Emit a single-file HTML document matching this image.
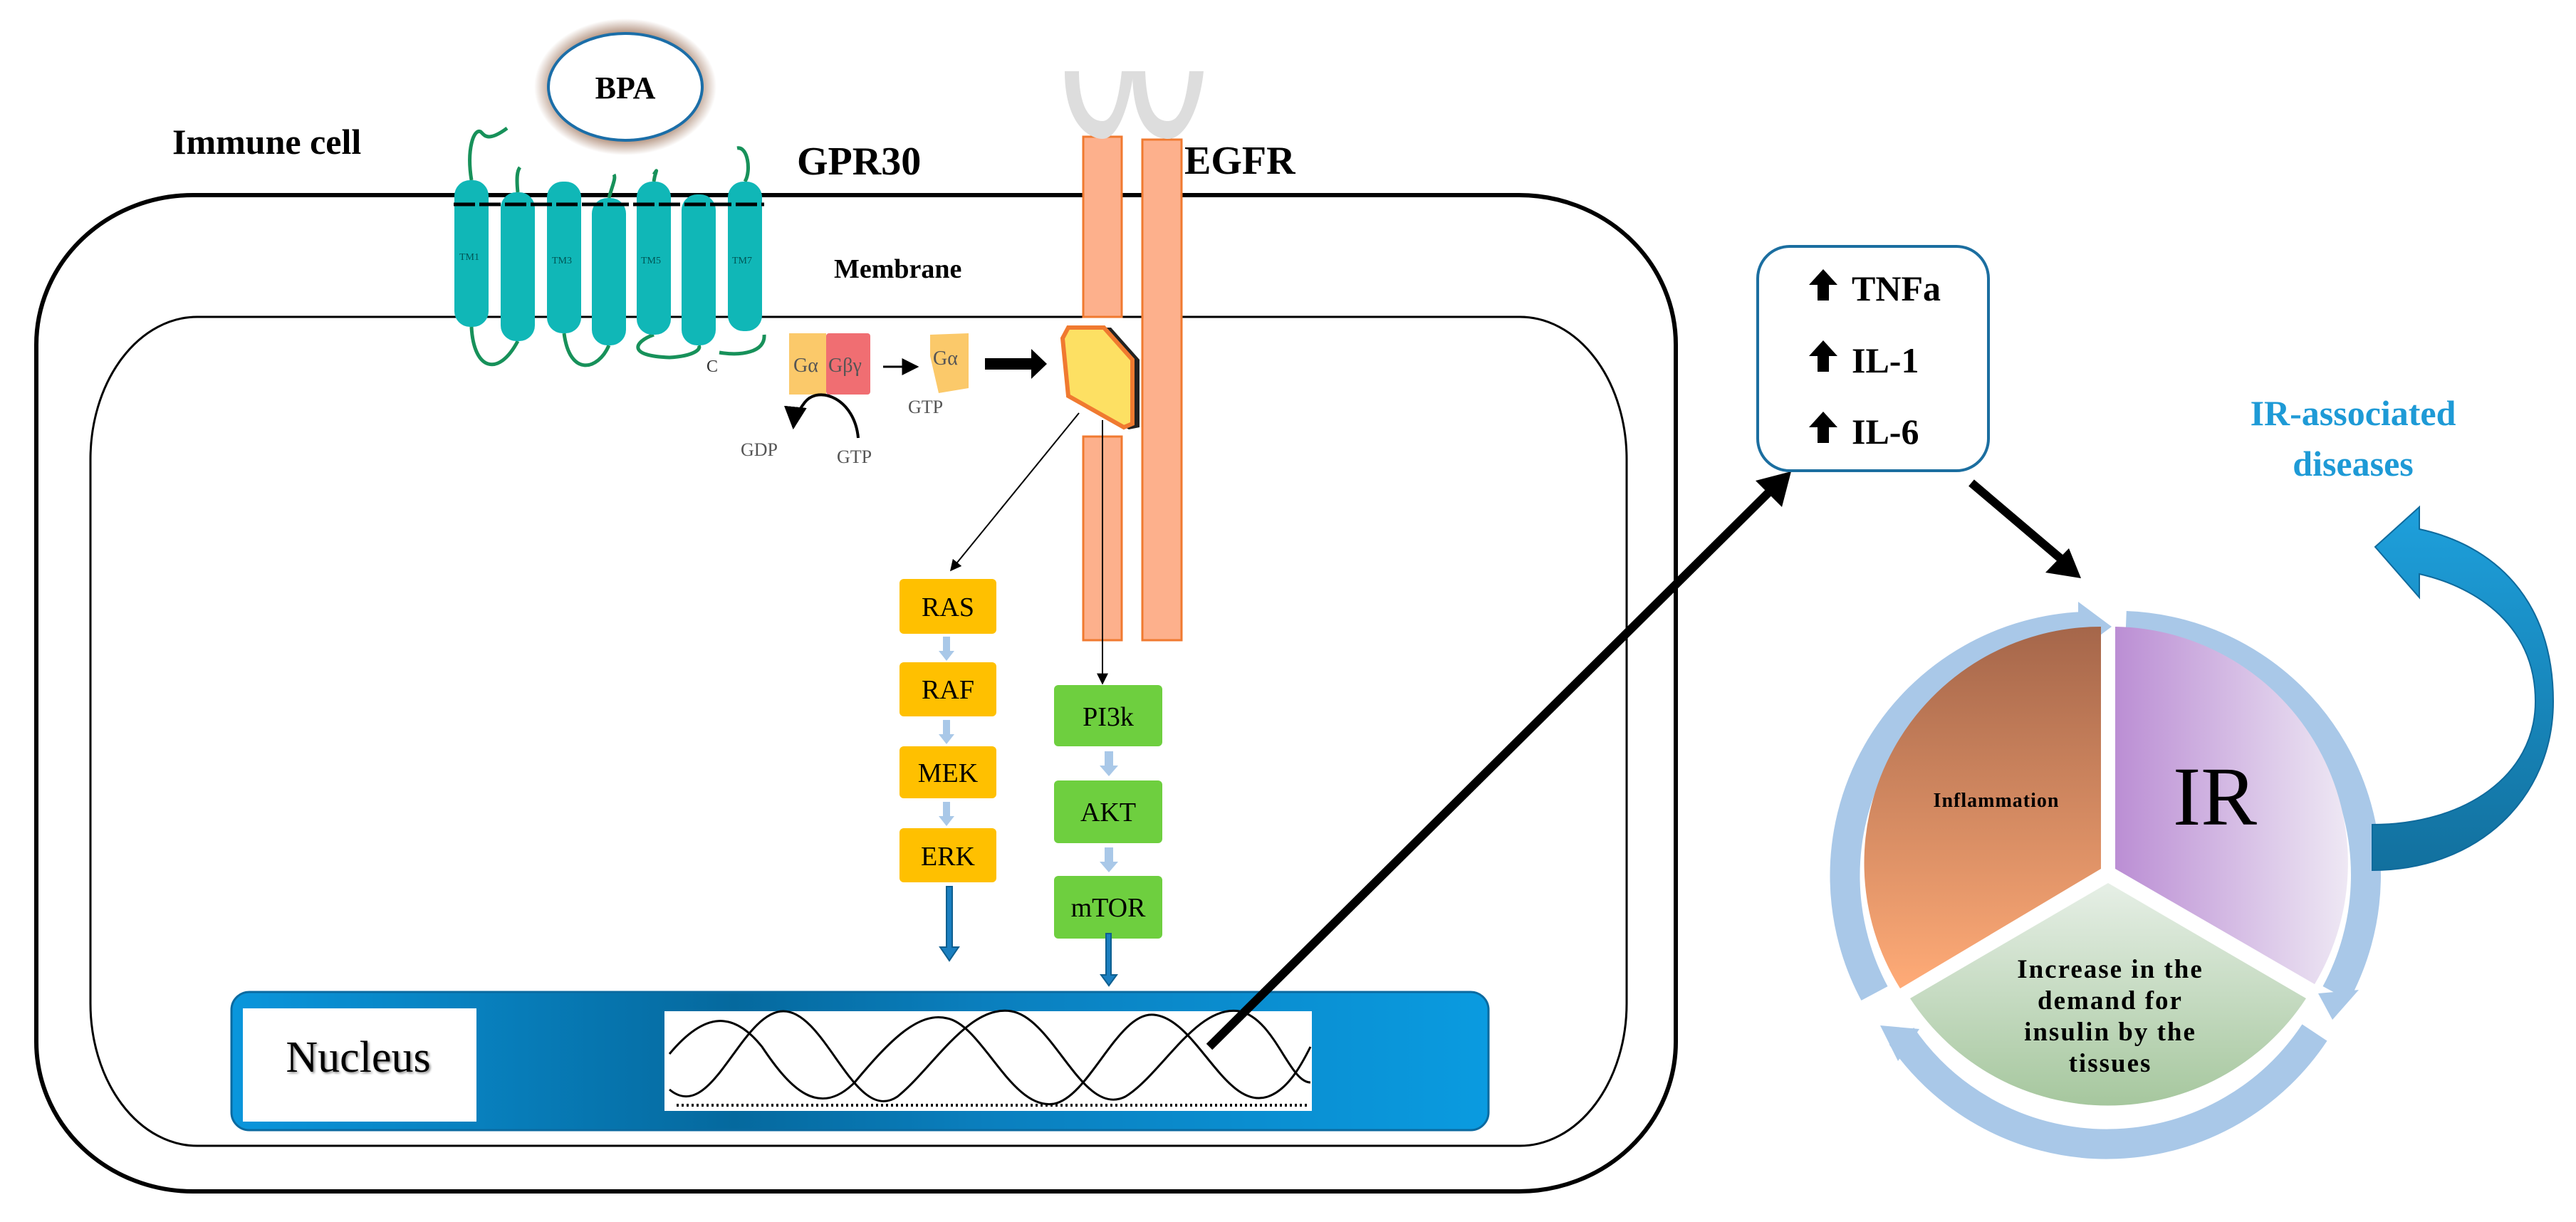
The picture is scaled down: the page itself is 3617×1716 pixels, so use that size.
<!DOCTYPE html>
<html><head><meta charset="utf-8"><style>
html,body{margin:0;padding:0;background:#fff;}
svg{display:block;}
text{font-family:"Liberation Serif",serif;}
</style></head><body>
<svg width="3617" height="1716" viewBox="0 0 3617 1716" xmlns="http://www.w3.org/2000/svg">
<defs>
<radialGradient id="halo" cx="50%" cy="50%" r="50%">
<stop offset="0.6" stop-color="#fff"/><stop offset="0.8" stop-color="#b89a88"/><stop offset="1" stop-color="#fff"/>
</radialGradient>
<linearGradient id="nuc" x1="0" x2="1" y1="0" y2="0">
<stop offset="0" stop-color="#0a96dc"/><stop offset="0.4" stop-color="#05699e"/><stop offset="0.6" stop-color="#0a7fbe"/><stop offset="1" stop-color="#0a9be0"/>
</linearGradient>
<linearGradient id="infl" x1="0" x2="0" y1="0" y2="1">
<stop offset="0" stop-color="#a5664a"/><stop offset="1" stop-color="#ffab77"/>
</linearGradient>
<linearGradient id="ir" x1="0" x2="1" y1="0" y2="0">
<stop offset="0" stop-color="#bb8ed4"/><stop offset="1" stop-color="#eee8f4"/>
</linearGradient>
<linearGradient id="grn" x1="0" x2="0" y1="0" y2="1">
<stop offset="0" stop-color="#e6efe6"/><stop offset="1" stop-color="#a6c79e"/>
</linearGradient>
<linearGradient id="barr" x1="0" x2="0" y1="0" y2="1">
<stop offset="0" stop-color="#1ea0dc"/><stop offset="1" stop-color="#12709e"/>
</linearGradient>
<marker id="ah" viewBox="0 0 10 10" refX="9" refY="5" markerWidth="8" markerHeight="8" orient="auto-start-reverse"><path d="M0,0 L10,5 L0,10 z" fill="#000"/></marker>
</defs>

<path d="M271,274 L2133,274 A220,210 0 0 1 2353,484 L2353,1463 A220,210 0 0 1 2133,1673 L271,1673 A220,210 0 0 1 51,1463 L51,484 A220,210 0 0 1 271,274 Z" fill="none" stroke="#000" stroke-width="6"/>
<path d="M277,445 L2134,445 A150,200 0 0 1 2284,645 L2284,1409 A150,200 0 0 1 2134,1609 L277,1609 A150,200 0 0 1 127,1409 L127,645 A150,200 0 0 1 277,445 Z" fill="none" stroke="#000" stroke-width="3"/>

<ellipse cx="878" cy="122" rx="128" ry="96" fill="url(#halo)"/>
<ellipse cx="878" cy="122" rx="108" ry="75" fill="#fff" stroke="#1b6ea8" stroke-width="4"/>
<text x="878" y="138" font-size="44" font-weight="bold" text-anchor="middle">BPA</text>

<text x="242" y="216" font-size="50" font-weight="bold">Immune cell</text>
<text x="1119" y="245" font-size="56" font-weight="bold">GPR30</text>
<text x="1663" y="244" font-size="56" font-weight="bold">EGFR</text>
<text x="1171" y="390" font-size="38" font-weight="bold">Membrane</text>

<g fill="none" stroke="#17915a" stroke-width="5">
<path d="M662,253 C655,210 665,180 675,185 C680,190 685,200 712,180"/>
<path d="M727,270 C725,250 726,240 730,235"/>
<path d="M855,278 C860,260 865,250 862,245"/>
<path d="M918,255 C920,240 925,235 918,245"/>
<path d="M1046,255 C1055,240 1050,205 1035,208"/>
<path d="M662,459 C665,520 700,530 727,479"/>
<path d="M792,468 C800,530 840,520 855,485"/>
<path d="M918,470 C890,480 880,500 940,502 C975,500 985,490 981,485"/>
<path d="M1010,495 C1040,500 1075,495 1073,470"/>
</g>
<g fill="#10b7b7">
<rect x="638" y="253" width="48" height="206" rx="22"/>
<rect x="703" y="270" width="48" height="209" rx="22"/>
<rect x="768" y="255" width="48" height="213" rx="22"/>
<rect x="831" y="278" width="48" height="207" rx="22"/>
<rect x="894" y="255" width="48" height="215" rx="22"/>
<rect x="957" y="273" width="48" height="212" rx="22"/>
<rect x="1022" y="255" width="48" height="210" rx="22"/>
</g>
<line x1="637" y1="287" x2="1073" y2="287" stroke="#000" stroke-width="5" stroke-dasharray="30,6"/>
<g font-size="14" fill="#055" font-family="Liberation Sans,sans-serif">
<text x="645" y="365">TM1</text><text x="775" y="370">TM3</text><text x="900" y="370">TM5</text><text x="1028" y="370">TM7</text>
</g>
<text x="992" y="522" font-size="24" fill="#333" font-family="Liberation Sans,sans-serif">C</text>

<rect x="1108" y="468" width="52" height="86" fill="#fbc96a"/>
<rect x="1160" y="468" width="62" height="86" fill="#f06e72" rx="4"/>
<text x="1114" y="522" font-size="28" fill="#555" font-family="Liberation Sans,sans-serif">Gα</text>
<text x="1163" y="522" font-size="28" fill="#555" font-family="Liberation Sans,sans-serif">Gβγ</text>
<line x1="1240" y1="515" x2="1288" y2="515" stroke="#000" stroke-width="3" marker-end="url(#ah)"/>
<path d="M1306,470 L1360,468 L1360,545 L1318,552 L1306,500 Z" fill="#fbc96a"/>
<text x="1310" y="512" font-size="28" fill="#555" font-family="Liberation Sans,sans-serif">Gα</text>
<text x="1275" y="580" font-size="26" fill="#555" font-family="Liberation Sans,sans-serif">GTP</text>
<path d="M1205,615 C1200,560 1150,540 1130,565 C1120,578 1115,590 1114,600" fill="none" stroke="#000" stroke-width="4" marker-end="url(#ah)"/>
<text x="1040" y="640" font-size="26" fill="#555" font-family="Liberation Sans,sans-serif">GDP</text>
<text x="1175" y="650" font-size="26" fill="#555" font-family="Liberation Sans,sans-serif">GTP</text>
<path d="M1383,503 L1448,503 L1448,490 L1470,511 L1448,532 L1448,519 L1383,519 Z" fill="#000"/>

<g fill="#fdb08c" stroke="#f07a30" stroke-width="3">
<rect x="1521" y="192" width="54" height="253"/>
<rect x="1521" y="613" width="54" height="286"/>
<rect x="1604" y="196" width="55" height="703"/>
</g>
<path d="M1495,100 C1495,175 1530,195 1548,195 C1570,195 1585,150 1592,100 L1575,100 C1570,150 1560,170 1548,170 C1530,170 1515,150 1515,100Z" fill="#ddd"/>
<path d="M1590,100 C1590,180 1620,195 1640,195 C1665,195 1685,150 1690,100 L1670,100 C1665,150 1655,170 1640,170 C1620,170 1610,150 1608,100Z" fill="#ddd"/>
<path d="M1508,460 L1560,460 L1600,505 L1600,600 L1585,603 L1505,560 L1494,475 Z" fill="#222"/>
<path d="M1500,460 L1550,460 L1590,505 L1590,595 L1578,600 L1500,556 L1492,475 Z" fill="#fde063" stroke="#f07a30" stroke-width="6"/>
<line x1="1515" y1="580" x2="1335" y2="801" stroke="#000" stroke-width="2" marker-end="url(#ah)"/>
<line x1="1548" y1="590" x2="1548" y2="960" stroke="#000" stroke-width="2" marker-end="url(#ah)"/>

<g fill="#ffc000">
<rect x="1263" y="813" width="136" height="77" rx="6"/>
<rect x="1263" y="930" width="136" height="76" rx="6"/>
<rect x="1263" y="1048" width="136" height="73" rx="6"/>
<rect x="1263" y="1163" width="136" height="76" rx="6"/>
</g>
<g fill="#6ecf3f">
<rect x="1480" y="962" width="152" height="86" rx="6"/>
<rect x="1480" y="1096" width="152" height="88" rx="6"/>
<rect x="1480" y="1230" width="152" height="88" rx="6"/>
</g>
<g font-size="38" text-anchor="middle">
<text x="1331" y="865">RAS</text><text x="1331" y="981">RAF</text><text x="1331" y="1098">MEK</text><text x="1331" y="1215">ERK</text>
<text x="1556" y="1019">PI3k</text><text x="1556" y="1153">AKT</text><text x="1556" y="1287">mTOR</text>
</g>
<g fill="#a9c8e8">
<path d="M1324,894 h10 v20 h6 l-11,14 l-11,-14 h6z"/>
<path d="M1324,1011 h10 v20 h6 l-11,14 l-11,-14 h6z"/>
<path d="M1324,1126 h10 v20 h6 l-11,14 l-11,-14 h6z"/>
<path d="M1551,1055 h12 v20 h7 l-13,15 l-13,-15 h7z"/>
<path d="M1551,1190 h12 v20 h7 l-13,15 l-13,-15 h7z"/>
</g>
<g fill="#1a7fc0" stroke="#0e5f90" stroke-width="2">
<path d="M1329,1245 h8 v85 h9 l-13,19 l-13,-19 h9z"/>
<path d="M1553,1311 h7 v58 h8 l-11,15 l-11,-15 h7z"/>
</g>

<rect x="325" y="1393" width="1765" height="194" rx="25" fill="url(#nuc)" stroke="#0b6aa0" stroke-width="3"/>
<rect x="341" y="1416" width="328" height="159" fill="#fff"/>
<text x="503" y="1505" font-size="62" text-anchor="middle" style="text-shadow:2px 2px 3px #888">Nucleus</text>
<rect x="933" y="1420" width="909" height="140" fill="#fff"/>
<g fill="none" stroke="#000" stroke-width="3">
<path d="M940,1530 C1000,1580 1040,1420 1100,1420 C1160,1420 1200,1580 1260,1540 C1310,1500 1360,1410 1420,1420 C1480,1430 1520,1570 1580,1540 C1630,1510 1680,1410 1740,1420 C1790,1430 1810,1520 1840,1520"/>
<path d="M940,1480 C990,1420 1030,1420 1070,1470 C1110,1530 1150,1570 1200,1520 C1250,1460 1290,1420 1330,1430 C1380,1440 1420,1560 1480,1550 C1530,1540 1570,1420 1620,1425 C1680,1430 1720,1560 1780,1540 C1810,1530 1830,1490 1840,1470"/>
</g>
<path d="M950,1552 L1835,1552" stroke="#000" stroke-dasharray="3,4" stroke-width="4"/>
<line x1="1698" y1="1470" x2="2490" y2="685" stroke="#000" stroke-width="12"/>
<path d="M2515,662 L2502,712 L2465,675 Z" fill="#000"/>

<rect x="2468" y="346" width="324" height="315" rx="45" fill="#fff" stroke="#1b6ea0" stroke-width="4"/>
<g fill="#000">
<path d="M2560,378 l-20,22 h12 v22 h16 v-22 h12z"/>
<path d="M2560,478 l-20,22 h12 v22 h16 v-22 h12z"/>
<path d="M2560,578 l-20,22 h12 v22 h16 v-22 h12z"/>
</g>
<g font-size="50" font-weight="bold">
<text x="2600" y="422">TNFa</text><text x="2600" y="523">IL-1</text><text x="2600" y="623">IL-6</text>
</g>
<line x1="2768" y1="678" x2="2900" y2="790" stroke="#000" stroke-width="12"/>
<path d="M2922,812 L2872,804 L2905,770 Z" fill="#000"/>

<text x="3304" y="597" font-size="50" font-weight="bold" fill="#1e9ad6" text-anchor="middle">IR-associated</text>
<text x="3304" y="668" font-size="50" font-weight="bold" fill="#1e9ad6" text-anchor="middle">diseases</text>

<!-- pie -->
<g stroke="#a9c8e8" stroke-width="42" fill="none">
<path d="M2632,1395 A350,350 0 0 1 2925,880"/>
<path d="M2985,879 A350,350 0 0 1 3280,1395"/>
<path d="M3250,1450 A350,350 0 0 1 2670,1455"/>
</g>
<g fill="#a9c8e8">
<path d="M2918,845 L2965,880 L2918,915 Z"/>
<path d="M3255,1395 L3312,1390 L3275,1432 Z"/>
<path d="M2640,1440 L2665,1490 L2695,1445 Z"/>
</g>
<path d="M2950,880 L2950,1220 L2668,1388 A332,332 0 0 1 2950,880 Z" fill="url(#infl)"/>
<path d="M2970,880 L2970,1220 L3250,1382 A332,332 0 0 0 2970,880 Z" fill="url(#ir)"/>
<path d="M2960,1240 L3238,1402 A332,332 0 0 1 2682,1402 Z" fill="url(#grn)"/>
<text x="2803" y="1133" font-size="28" font-weight="bold" text-anchor="middle" letter-spacing="1">Inflammation</text>
<text x="3110" y="1158" font-size="118" text-anchor="middle">IR</text>
<g font-size="37" font-weight="bold" text-anchor="middle" letter-spacing="2">
<text x="2963" y="1373">Increase in the</text>
<text x="2963" y="1417">demand for</text>
<text x="2963" y="1461">insulin by the</text>
<text x="2963" y="1505">tissues</text>
</g>

<path d="M3331,1158 C3460,1158 3560,1090 3560,985 C3560,880 3480,825 3397,806 L3397,839 L3335,768 L3397,712 L3397,743 C3500,765 3585,840 3585,985 C3585,1120 3480,1222 3331,1222 Z" fill="url(#barr)" stroke="#0f6a9c" stroke-width="2"/>
</svg>
</body></html>
